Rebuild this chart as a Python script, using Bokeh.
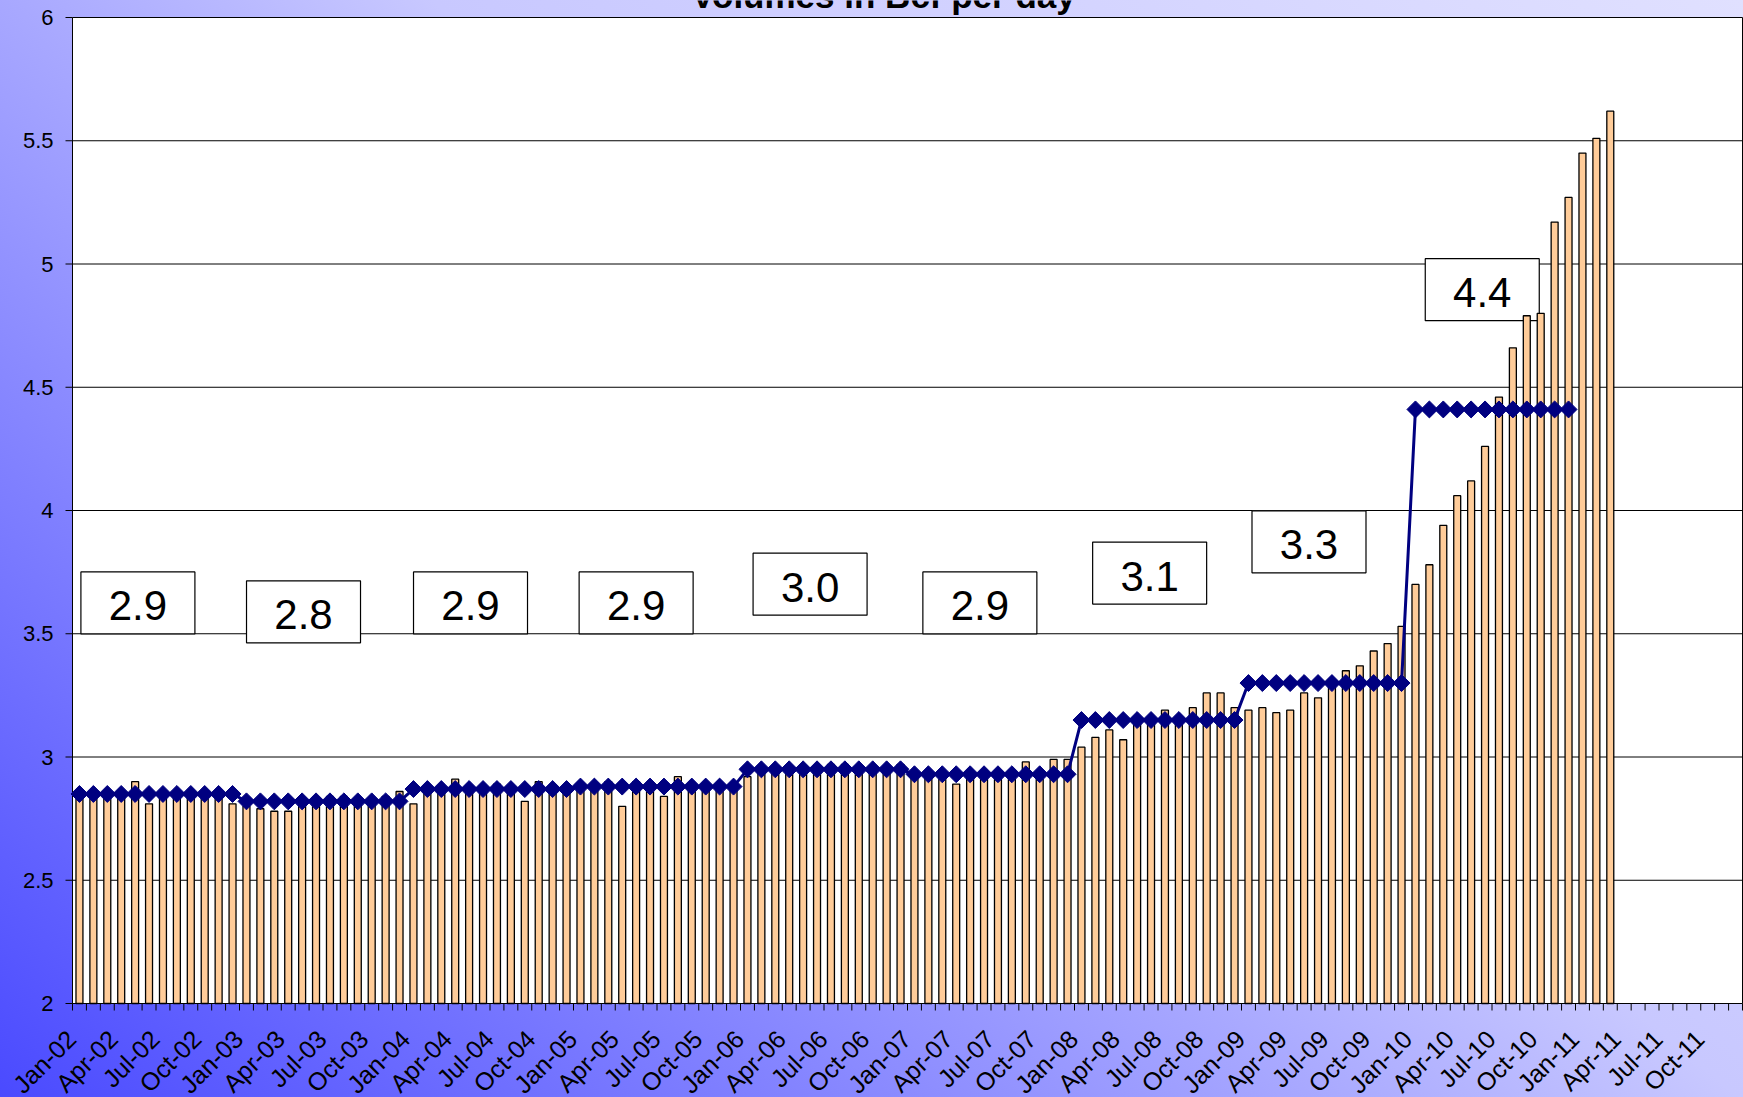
import numpy as np
from bokeh.plotting import figure
from bokeh.models import Range1d, Label, ColumnDataSource
from bokeh.core.properties import value
from bokeh.embed import file_html
from bokeh.resources import INLINE

# ---------------- data ----------------
tick_labels_x = ["Jan-02", "Apr-02", "Jul-02", "Oct-02", "Jan-03", "Apr-03", "Jul-03", "Oct-03",
                 "Jan-04", "Apr-04", "Jul-04", "Oct-04", "Jan-05", "Apr-05", "Jul-05", "Oct-05",
                 "Jan-06", "Apr-06", "Jul-06", "Oct-06", "Jan-07", "Apr-07", "Jul-07", "Oct-07",
                 "Jan-08", "Apr-08", "Jul-08", "Oct-08", "Jan-09", "Apr-09", "Jul-09", "Oct-09",
                 "Jan-10", "Apr-10", "Jul-10", "Oct-10", "Jan-11", "Apr-11", "Jul-11", "Oct-11"]
n_months = 120  # Jan-02 .. Dec-11

vol_2002 = [2.85, 2.84, 2.85, 2.85, 2.90, 2.81, 2.86, 2.86, 2.86, 2.86, 2.85, 2.81]
vol_2003 = [2.80, 2.79, 2.78, 2.78, 2.82, 2.83, 2.84, 2.84, 2.83, 2.83, 2.84, 2.86]
vol_2004 = [2.81, 2.86, 2.87, 2.91, 2.88, 2.88, 2.89, 2.88, 2.82, 2.90, 2.87, 2.88]
vol_2005 = [2.88, 2.89, 2.90, 2.80, 2.90, 2.89, 2.84, 2.92, 2.89, 2.89, 2.88, 2.88]
vol_2006 = [2.92, 2.94, 2.95, 2.95, 2.96, 2.96, 2.97, 2.97, 2.95, 2.95, 2.96, 2.97]
vol_2007 = [2.92, 2.92, 2.91, 2.89, 2.92, 2.91, 2.91, 2.91, 2.98, 2.91, 2.99, 2.99]
vol_2008 = [3.04, 3.08, 3.11, 3.07, 3.14, 3.15, 3.19, 3.15, 3.20, 3.26, 3.26, 3.20]
vol_2009 = [3.19, 3.20, 3.18, 3.19, 3.26, 3.24, 3.31, 3.35, 3.37, 3.43, 3.46, 3.53]
vol_2010 = [3.70, 3.78, 3.94, 4.06, 4.12, 4.26, 4.46, 4.66, 4.79, 4.80, 5.17, 5.27]
vol_2011 = [5.45, 5.51, 5.62]

yearly_avg = [2.85, 2.82, 2.87, 2.88, 2.95, 2.93, 3.15, 3.30, 4.41]  # 2002..2010

box_texts = ["2.9", "2.8", "2.9", "2.9", "3.0", "2.9", "3.1", "3.3", "4.4"]

tick_values_y = [2, 2.5, 3, 3.5, 4, 4.5, 5, 5.5, 6]
tick_labels_y = ["2", "2.5", "3", "3.5", "4", "4.5", "5", "5.5", "6"]

# ---------------- derived series ----------------
volumes = vol_2002 + vol_2003 + vol_2004 + vol_2005 + vol_2006 + vol_2007 + vol_2008 + vol_2009 + vol_2010 + vol_2011
bar_x = list(range(len(volumes)))
line_y = [v for v in yearly_avg for _ in range(12)]
line_x = list(range(len(line_y)))

# placement of the annotation boxes (month index, value)
box_x = [4.2, 16.1, 28.1, 40.0, 52.5, 64.7, 76.9, 88.35, 100.8]
box_y = [3.625, 3.589, 3.625, 3.625, 3.701, 3.625, 3.746, 3.873, 4.896]

# ---------------- layout (pixels of the original picture) ----------------
FONT = "Liberation Sans"
W, H = 1743, 1097
AREA_L, AREA_R, AREA_T, AREA_B = 72, 1742, 17, 1003   # plot area: months -0.5..119.5, values 6..2
month_px = (AREA_R - AREA_L) / n_months
unit_px = (AREA_B - AREA_T) / 4.0
x_lo = -0.5 - AREA_L / month_px
x_hi = -0.5 + (W - AREA_L) / month_px
y_lo = 2 - (H - AREA_B) / unit_px
y_hi = 6 + AREA_T / unit_px
label_drop = 31 / unit_px      # month labels end about this far below the axis
label_shift = 8 / month_px     # and slightly left of the month centre

p = figure(width=W, height=H, output_backend="svg", toolbar_location=None,
           x_range=Range1d(x_lo, x_hi), y_range=Range1d(y_lo, y_hi),
           x_axis_location=None, y_axis_location=None,
           min_border_left=0, min_border_right=0, min_border_top=0, min_border_bottom=0)
p.border_fill_color = None
p.background_fill_color = None
p.outline_line_color = None
p.xgrid.visible = False
p.ygrid.visible = False
p.styles = {"background-image": "linear-gradient(40deg, #4A4AFF 0%, #A8A8FF 43%, #C8C8FF 57%, #E0E0FF 100%)"}

# plot area and gridlines
p.quad(left=[-0.5], right=[n_months - 0.5], bottom=[2], top=[6], fill_color="white",
       line_color="black", line_width=1)
grid_vals = tick_values_y[1:-1]
p.segment(x0=[-0.5] * len(grid_vals), x1=[n_months - 0.5] * len(grid_vals),
          y0=grid_vals, y1=grid_vals, line_color="black", line_width=1)

# value axis: ticks and labels
p.ray(x=[-0.5] * len(tick_values_y), y=tick_values_y, length=7, length_units="screen",
      angle=np.pi, line_color="black", line_width=1)
p.text(x=[-0.5] * len(tick_values_y), y=tick_values_y, text=tick_labels_y,
       text_align="right", text_baseline="middle", x_offset=-19,
       text_font=value(FONT), text_font_size="22px", text_color="black")

# category axis: ticks between months, labels every quarter
bounds_x = [i - 0.5 for i in range(n_months + 1)]
p.ray(x=bounds_x, y=[2] * len(bounds_x), length=7, length_units="screen", angle=-np.pi / 2,
      line_color="black", line_width=1)
label_pos = list(range(0, n_months, 3))
p.text(x=[v - label_shift for v in label_pos], y=[2 - label_drop] * len(label_pos),
       text=tick_labels_x, angle=np.pi / 4, text_align="right", text_baseline="middle",
       text_font=value(FONT), text_font_size="25px", text_color="black")

# annotation boxes (below bars)
bsrc = ColumnDataSource(dict(x=box_x, y=box_y, t=box_texts))
p.rect(x="x", y="y", width=114, height=62, width_units="screen", height_units="screen",
       source=bsrc, fill_color="white", line_color="black", line_width=1.2)
p.text(x="x", y="y", text="t", source=bsrc, text_font=value(FONT), text_font_size="42px",
       text_align="center", text_baseline="alphabetic", y_offset=3, text_color="black")

# bars
p.vbar(x=bar_x, top=volumes, bottom=2, width=0.5, fill_color="#FFCC99",
       line_color="black", line_width=1.3)

# yearly average line with diamonds
p.line(x=line_x, y=line_y, line_color="#000080", line_width=3)
p.scatter(x=line_x, y=line_y, marker="square", angle=np.pi / 4, size=12,
          fill_color="#000080", line_color="#000080")

# title (partly cut off at the top, as in the original)
title = Label(x=883, y=H + 5, x_units="screen", y_units="screen",
              text="Volumes in Bcf per day", text_align="center", text_baseline="alphabetic",
              text_font=FONT, text_font_size="35px", text_font_style="bold", text_color="black")
p.add_layout(title)

open("out.html", "w").write(file_html(p, INLINE))
